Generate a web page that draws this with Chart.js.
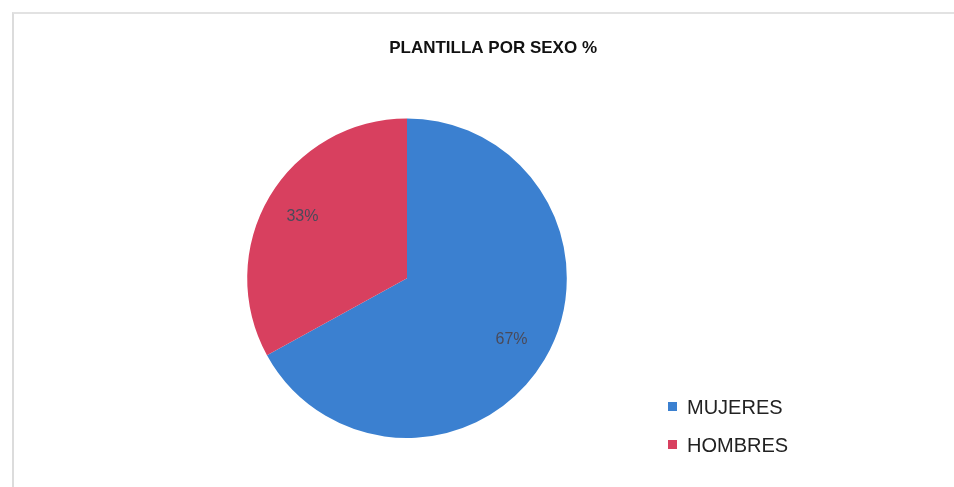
<!DOCTYPE html>
<html>
<head>
<meta charset="utf-8">
<script src="https://cdn.jsdelivr.net/npm/chart.js@4"></script>
<style>
  html, body { margin: 0; padding: 0; background: #fff; }
  #wrap { position: relative; width: 954px; height: 487px; }
  #frame { position: absolute; left: 12px; top: 12px; right: 0; bottom: 0;
           border-top: 2px solid #e2e2e2; border-left: 2px solid #dcdcdc; }
  #legend { position: absolute; left: 668px; top: 396px;
            font: 20px "Liberation Sans", Arial, sans-serif; color: #222; }
  #legend div { height: 38px; display: flex; align-items: flex-start; }
  #legend span.box { display: inline-block; width: 9px; height: 9px; margin: 6px 10px 0 0; }
</style>
</head>
<body>
<div id="wrap">
  <div id="frame"></div>
  <canvas id="myChart" width="954" height="487"></canvas>
  <div id="legend"></div>
</div>
<script>
const categories = ["MUJERES", "HOMBRES"];
const values = [67, 33];
const colors = ["#3b80d0", "#d8405f"];

/* percent labels inside slices */
const pctLabels = {
  id: "pctLabels",
  afterDatasetsDraw(chart) {
    const ctx = chart.ctx;
    const meta = chart.getDatasetMeta(0);
    ctx.save();
    ctx.font = "16px 'Liberation Sans', Arial, sans-serif";
    ctx.fillStyle = "#4a4a5a";
    ctx.textAlign = "center";
    ctx.textBaseline = "middle";
    meta.data.forEach((arc, i) => {
      const p = arc.getProps(["x", "y", "startAngle", "endAngle", "outerRadius"], true);
      const mid = (p.startAngle + p.endAngle) / 2;
      const r = p.outerRadius * 0.76;
      ctx.fillText(values[i] + "%", p.x + Math.cos(mid) * r, p.y + Math.sin(mid) * r);
    });
    ctx.restore();
  }
};

const ctx = document.getElementById("myChart").getContext("2d");
const chart = new Chart(ctx, {
  type: "pie",
  data: {
    labels: categories,
    datasets: [{
      data: values,
      backgroundColor: colors,
      borderWidth: 0
    }]
  },
  options: {
    responsive: false,
    animation: false,
    layout: { padding: { left: 217, right: 357, top: 0, bottom: 49 } },
    plugins: {
      legend: { display: false },
      tooltip: { enabled: false },
      title: {
        display: true,
        text: "PLANTILLA POR SEXO %",
        align: "end",
        color: "#111",
        font: { family: "'Liberation Sans', Arial, sans-serif", size: 17, weight: "bold" },
        padding: { top: 38, bottom: 60 }
      }
    }
  },
  plugins: [pctLabels]
});

/* legend */
const legend = document.getElementById("legend");
categories.forEach((c, i) => {
  legend.innerHTML += `<div><span class="box" style="background:${colors[i]}"></span>${c}</div>`;
});
</script>
</body>
</html>
